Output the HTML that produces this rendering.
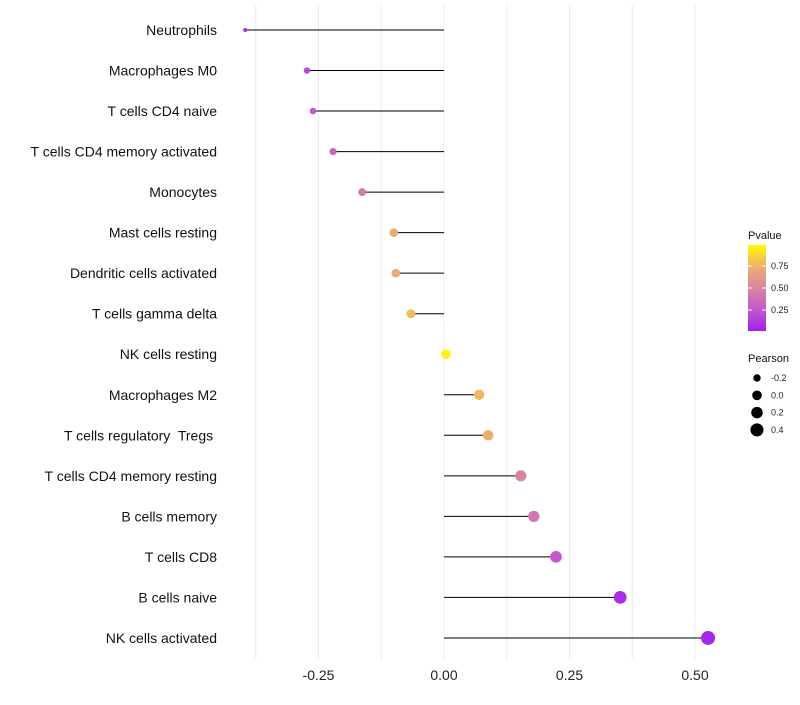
<!DOCTYPE html>
<html><head><meta charset="utf-8"><style>
body{margin:0;background:#fff}
svg text{font-family:"Liberation Sans",sans-serif;white-space:pre}
</style></head><body>
<svg id="chart" width="800" height="700" xmlns="http://www.w3.org/2000/svg"></svg>
<script>
const categories=["Neutrophils","Macrophages M0","T cells CD4 naive","T cells CD4 memory activated","Monocytes","Mast cells resting","Dendritic cells activated","T cells gamma delta","NK cells resting","Macrophages M2","T cells regulatory  Tregs ","T cells CD4 memory resting","B cells memory","T cells CD8","B cells naive","NK cells activated"];
const pearson=[-0.396,-0.273,-0.261,-0.221,-0.163,-0.100,-0.096,-0.066,0.004,0.070,0.088,0.153,0.179,0.223,0.351,0.526];
const pvalues=[0.08,0.18,0.25,0.32,0.45,0.72,0.72,0.80,0.98,0.78,0.75,0.48,0.42,0.25,0.06,0.03];
const xTicks=[-0.25,0,0.25,0.5];
const xTickLabels=["-0.25","0.00","0.25","0.50"];
const legendP=[0.25,0.5,0.75];
const legendS=[-0.2,0.0,0.2,0.4];

const NS="http://www.w3.org/2000/svg";
const svg=document.getElementById('chart');
function mk(t,a,p){const e=document.createElementNS(NS,t);for(const k in a)e.setAttribute(k,a[k]);(p||svg).appendChild(e);return e;}
const x=v=>444+v*502;
const y=i=>30+i*40.53;
const r=v=>Math.sqrt(Math.max(2,23.4+48.6*v));
const stops=[[0,[163,31,240]],[0.25,[194,88,205]],[0.5,[217,135,160]],[0.75,[237,175,112]],[1,[255,250,0]]];
function col(p){for(let i=1;i<stops.length;i++){if(p<=stops[i][0]){const a=stops[i-1],b=stops[i],t=(p-a[0])/(b[0]-a[0]);return 'rgb('+a[1].map((c,k)=>Math.round(c+(b[1][k]-c)*t)).join(',')+')';}}return 'rgb(255,250,0)';}

for(let g=-0.375;g<=0.55;g+=0.125){
  const gl=mk('line',{x1:x(g),x2:x(g),y1:5,y2:660,stroke:'#ececec','stroke-width':1});
  
  
}
xTicks.forEach((t,i)=>{
  const tx=mk('text',{x:x(t),y:680,'font-size':14,'text-anchor':'middle',fill:'#222'});
  tx.textContent=xTickLabels[i];
  
  
});
categories.forEach((c,i)=>{
  const tx=mk('text',{x:217,y:y(i)+5,'font-size':14,'text-anchor':'end',fill:'#111'});
  tx.textContent=c;
  
  
  const ln=mk('line',{x1:x(0),x2:x(pearson[i]),y1:y(i),y2:y(i),stroke:'#000','stroke-width':1});
  
  
  const pt=mk('circle',{cx:x(pearson[i]),cy:y(i),r:r(pearson[i]),fill:col(pvalues[i])});
  
  
});
const defs=mk('defs',{});
const lg=mk('linearGradient',{id:'pg',x1:0,y1:1,x2:0,y2:0},defs);
for(let p=0;p<=1.0001;p+=0.1){mk('stop',{offset:p,'stop-color':col(p)},lg);}
const lt=mk('text',{x:748,y:239,'font-size':11,fill:'#111'});lt.textContent='Pvalue';


const bar=mk('rect',{x:748,y:245,width:18,height:86,fill:'url(#pg)'});


const py=p=>332-p*88;
legendP.forEach(p=>{
  mk('line',{x1:748,x2:752,y1:py(p),y2:py(p),stroke:'#fff'});
  mk('line',{x1:762,x2:766,y1:py(p),y2:py(p),stroke:'#fff'});
  const t=mk('text',{x:771,y:py(p)+3,'font-size':9,fill:'#222'});t.textContent=p.toFixed(2);
  
  
});
const st=mk('text',{x:748,y:362,'font-size':11,fill:'#111'});st.textContent='Pearson';


legendS.forEach((s,i)=>{
  const cy=378+i*17.3;
  const c=mk('circle',{cx:757,cy:cy,r:r(s),fill:'#000'});
  
  
  const t=mk('text',{x:771,y:cy+3,'font-size':9,fill:'#222'});t.textContent=s.toFixed(1);
  
  
});
</script>
</body></html>
